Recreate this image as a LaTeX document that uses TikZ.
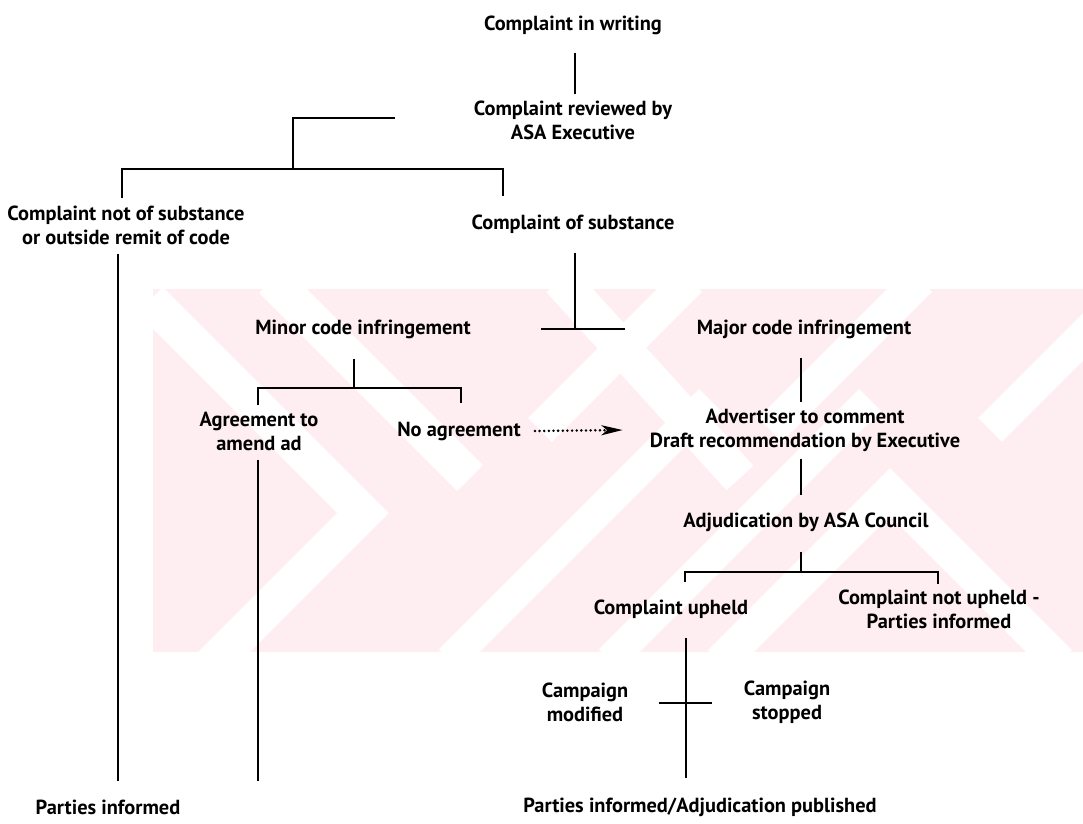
\documentclass[tikz,border=0pt]{standalone}
\usepackage{fontspec}
\setmainfont{PT Sans}
\usetikzlibrary{arrows.meta}
\definecolor{wmark}{RGB}{254,237,241}

\begin{document}
\begin{tikzpicture}[x=0.025cm,y=-0.025cm,
    lbl/.style={font=\fontsize{14.5}{17}\selectfont\bfseries,align=center,inner sep=0pt},
    conn/.style={line width=1.3pt},
    bar/.style={line width=1.9pt},
    dotarrow/.style={line width=2pt,line cap=round,dash pattern=on 0pt off 3.3pt,
      -{Stealth[length=15pt,width=7pt,inset=4pt,line cap=butt]}}]
  \useasboundingbox (0,0) rectangle (1083,823);
  % faint watermark behind the chart
  \begin{scope}
    \clip (153,289) rectangle (1083,652);
    \fill[wmark] (153,289) rectangle (1083,652);
    \foreach \p/\q in {272/470, 560/740}
      \draw[white,line width=26pt] (\p,280) -- (\q,478);
    \draw[white,line width=26pt] (150,300) -- (363,513) -- (150,726);
    \foreach \p in {450, 610}
      \draw[white,line width=22pt] (\p,660) -- (\p+260,400);
    \foreach \p in {690, 920, 1140}
      \draw[white,line width=24pt] (\p,280) -- (\p-150,430);
    \draw[white,line width=24pt] (720,662) -- (890,492) -- (1060,662);
  \end{scope}

  \node[lbl] (writing)   at (573,25)  {Complaint in writing};
  \node[lbl] (reviewed)  at (573,120) {Complaint reviewed by\\ASA Executive};
  \node[lbl] (notsub)    at (126,225) {Complaint not of substance\\or outside remit of code};
  \node[lbl] (sub)       at (573,224) {Complaint of substance};
  \node[lbl] (minor)     at (363,329) {Minor code infringement};
  \node[lbl] (major)     at (804,329) {Major code infringement};
  \node[lbl] (agree)     at (259,431) {Agreement to\\amend ad};
  \node[lbl] (noagree)   at (459,431) {No agreement};
  \node[lbl] (advert)    at (805,430) {Advertiser to comment\\Draft recommendation by Executive};
  \node[lbl] (adjud)     at (806,522) {Adjudication by ASA Council};
  \node[lbl] (upheld)    at (671,609) {Complaint upheld};
  \node[lbl] (notupheld) at (939,609) {Complaint not upheld -\\Parties informed};
  \node[lbl] (modified)  at (585,702) {Campaign\\modified};
  \node[lbl] (stopped)   at (787,702) {Campaign\\stopped};
  \node[lbl] (informedL) at (108,807) {Parties informed};
  \node[lbl] (informedR) at (700,807) {Parties informed/Adjudication published};

  \coordinate (split1) at (293,169);
  \coordinate (split2) at (575,329);
  \coordinate (split3) at (354,388);
  \coordinate (split4) at (801,572);

  \draw[conn] ([shift={(2,18)}]writing.south) -- ([shift={(2,-6)}]reviewed.north);
  \draw[conn] ([shift={(-79,-2)}]reviewed.west) -| (split1);
  \draw[conn] ([shift={(-4,-7)}]notsub.north) |- (split1) -| ([shift={(-70,-18)}]sub.north);
  \draw[conn] ([shift={(-8,9)}]notsub.south) -- ([shift={(-8,-18)}]notsub.south |- informedL.north);

  \draw[conn] ([shift={(2,19)}]sub.south) -- (split2);
  \draw[bar] ([shift={(70,0)}]minor.east) -- ([shift={(-72,0)}]major.west);

  \draw[conn] ([shift={(-9,20)}]minor.south) -- (split3);
  \draw[conn] ([shift={(-1,-6)}]agree.north) |- (split3) -| ([shift={(2,-18)}]noagree.north);
  \draw[conn] ([shift={(-1,9)}]agree.south) -- ([shift={(-1,-18)}]agree.south |- informedL.north);
  \draw[dotarrow] ([shift={(14,0)}]noagree.east) -- ([shift={(-27,0)}]advert.west);

  \draw[conn] ([shift={(-3,19)}]major.south) -- ([shift={(-4,-6)}]advert.north);
  \draw[conn] ([shift={(-4,7)}]advert.south) -- ([shift={(-5,-17)}]adjud.north);
  \draw[conn] ([shift={(-5,20)}]adjud.south) -- (split4);
  \draw[conn] ([shift={(14,-17)}]upheld.north) |- (split4) -| ([shift={(-1,-5)}]notupheld.north);

  \draw[conn] ([shift={(15,19)}]upheld.south) -- ([shift={(15,-19)}]upheld.south |- informedR.north);
  \draw[bar] ([shift={(31,1)}]modified.east) -- ([shift={(-32,1)}]stopped.west);
\end{tikzpicture}
\end{document}
